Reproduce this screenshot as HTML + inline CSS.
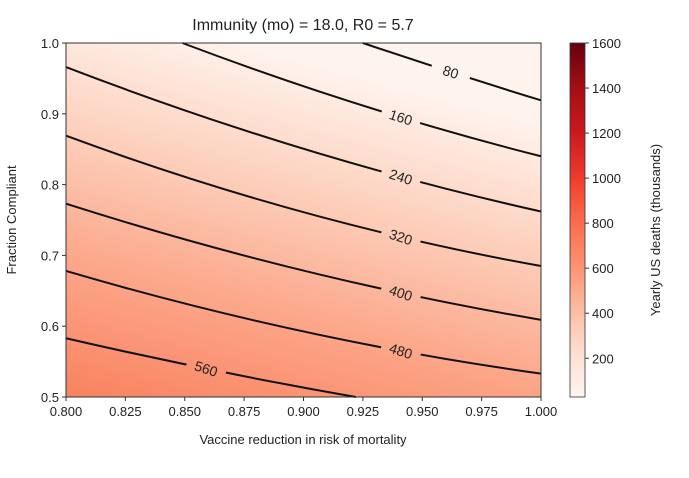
<!DOCTYPE html>
<html><head><meta charset="utf-8"><style>
body{margin:0;background:#fff;font-family:"Liberation Sans",sans-serif}
svg text{font-family:"Liberation Sans",sans-serif;fill:#222}
</style></head><body>
<svg id="c" width="689" height="473">
<defs>
<linearGradient id="bg" x1="0" y1="1" x2="0.35" y2="0">
<stop offset="0" stop-color="#f9825f"/><stop offset="0.35" stop-color="#fca78a"/><stop offset="0.7" stop-color="#fdd3c0"/><stop offset="1" stop-color="#fff3ed"/>
</linearGradient>
<linearGradient id="cb" x1="0" y1="1" x2="0" y2="0">
<stop offset="0" stop-color="#fff5f0"/><stop offset="0.12" stop-color="#fee0d2"/><stop offset="0.25" stop-color="#fcbba1"/><stop offset="0.37" stop-color="#fc9272"/><stop offset="0.5" stop-color="#fb6a4a"/><stop offset="0.62" stop-color="#ef3b2c"/><stop offset="0.75" stop-color="#cb181d"/><stop offset="0.87" stop-color="#a50f15"/><stop offset="1" stop-color="#67000d"/>
</linearGradient>
<mask id="m"><rect x="0" y="0" width="689" height="473" fill="#fff"/><g id="mk"></g></mask>
</defs>
<text x="303" y="30" font-size="16" text-anchor="middle">Immunity (mo) = 18.0, R0 = 5.7</text>
<rect x="66" y="43" width="475" height="354" fill="url(#bg)"/>
<g id="lines" mask="url(#m)"></g>
<g id="labels"></g>
<rect x="66" y="43" width="475" height="354" fill="none" stroke="#333" stroke-width="1"/>
<g id="axes"></g>
<text x="303" y="444" font-size="13" text-anchor="middle">Vaccine reduction in risk of mortality</text>
<text transform="translate(16,220) rotate(-90)" font-size="13" text-anchor="middle">Fraction Compliant</text>
<rect x="570" y="43" width="15" height="354" fill="url(#cb)" stroke="#333" stroke-width="0.8"/>
<g id="cbt"></g>
<text transform="translate(660,230) rotate(-90)" font-size="13" text-anchor="middle">Yearly US deaths (thousands)</text>
</svg>
<script>
const levels=[80,160,240,320,400,480,560];
const startX=[0.925,0.849,0.8,0.8,0.8,0.8,0.8];
const startY=[1.0,1.0,0.966,0.869,0.773,0.678,0.583];
const midX=[0.962,0.941,0.941,0.941,0.941,0.941,0.859];
const midY=[0.959,0.895,0.811,0.726,0.647,0.565,0.540];
const endX=[1.0,1.0,1.0,1.0,1.0,1.0,0.922];
const endY=[0.919,0.840,0.762,0.685,0.609,0.533,0.5];
const labelX=[0.962,0.941,0.941,0.941,0.941,0.941,0.859];
const labelY=[0.959,0.895,0.811,0.726,0.647,0.565,0.540];
const xTicks=[0.8,0.825,0.85,0.875,0.9,0.925,0.95,0.975,1.0];
const xTickLabels=["0.800","0.825","0.850","0.875","0.900","0.925","0.950","0.975","1.000"];
const yTicks=[0.5,0.6,0.7,0.8,0.9,1.0];
const cbTicks=[200,400,600,800,1000,1200,1400,1600];
const cbMin=28,cbMax=1600;
const sx=v=>66+(v-0.8)/0.2*475;
const sy=v=>397-(v-0.5)/0.5*354;
const cy=v=>397-(v-cbMin)/(cbMax-cbMin)*354;
const NS="http://www.w3.org/2000/svg";
function mk(t,a,p){const e=document.createElementNS(NS,t);for(const k in a)e.setAttribute(k,a[k]);p.appendChild(e);return e;}
const L=document.getElementById('lines'),LB=document.getElementById('labels'),M=document.getElementById('mk'),A=document.getElementById('axes'),CB=document.getElementById('cbt');
levels.forEach((lv,i)=>{
 const x0=sx(startX[i]),y0=sy(startY[i]),x2=sx(endX[i]),y2=sy(endY[i]),xm=sx(midX[i]),ym=sy(midY[i]);
 // quadratic through mid point at parameter based on x position
 const t=Math.min(0.85,Math.max(0.15,(xm-x0)/(x2-x0)));
 const qx=(xm-(1-t)*(1-t)*x0-t*t*x2)/(2*t*(1-t)),qy=(ym-(1-t)*(1-t)*y0-t*t*y2)/(2*t*(1-t));
 const p=mk('path',{d:`M${x0},${y0} Q${qx},${qy} ${x2},${y2}`,fill:'none',stroke:'#111','stroke-width':2},L);
 
 
 const lx=sx(labelX[i]),ly=sy(labelY[i]);
 mk('rect',{x:lx-20,y:ly-10,width:40,height:20,fill:'#000',transform:`rotate(18 ${lx} ${ly})`},M);
 const tx=mk('text',{x:lx,y:ly+5,'font-size':14,'text-anchor':'middle',transform:`rotate(18 ${lx} ${ly})`},LB);
 tx.textContent=lv;
 
 
});
xTicks.forEach((v,i)=>{
 mk('line',{x1:sx(v),x2:sx(v),y1:397,y2:401,stroke:'#333'},A);
 const t=mk('text',{x:sx(v),y:416,'font-size':13,'text-anchor':'middle'},A);t.textContent=xTickLabels[i];
 
 
});
yTicks.forEach(v=>{
 mk('line',{x1:62,x2:66,y1:sy(v),y2:sy(v),stroke:'#333'},A);
 const t=mk('text',{x:59,y:sy(v)+5,'font-size':13,'text-anchor':'end'},A);t.textContent=v.toFixed(1);
 
 
});
cbTicks.forEach(v=>{
 mk('line',{x1:585,x2:589,y1:cy(v),y2:cy(v),stroke:'#333'},CB);
 const t=mk('text',{x:592,y:cy(v)+5,'font-size':13},CB);t.textContent=v;
 
 
});
</script>
</body></html>
